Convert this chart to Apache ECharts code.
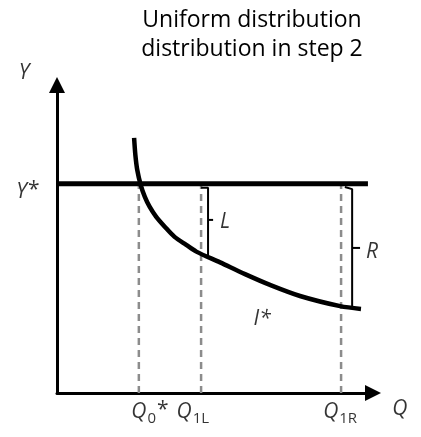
<!DOCTYPE html>
<html>
<head>
<meta charset="utf-8">
<script src="https://cdn.jsdelivr.net/npm/echarts@6/dist/echarts.min.js"></script>
<style>
  html, body { margin: 0; padding: 0; background: #fff; }
  #chart { width: 421px; height: 437px; }
</style>
</head>
<body>
<div id="chart"></div>
<script>
// curve I* (Q, Y) in 0..100 units
const curveQ = [24.4, 24.8, 25.4, 26.5, 27.8, 29.3, 31.4, 34.1, 37.2, 40.9, 44.1, 51.6, 59.5, 67.4, 76.9, 89.6, 96.2];
const curveY = [82.8, 77.3, 72.4, 67.5, 63.7, 60.5, 57.2, 54.0, 50.7, 48.1, 45.9, 42.4, 38.6, 35.1, 31.5, 28.2, 27.3];
const yStar = 67.9;
const yStarEnd = 98.4;
// dashed verticals
const qTicks = ['Q0', 'Q1L', 'Q1R'];
const qValues = [25.9, 45.6, 89.9];
// brackets L and R : [x, y] points
const bracketL = [[45.6, 66.6], [47.8, 66.6], [47.8, 44.8]];
const tickL = [[47.8, 56.2], [49.4, 56.2]];
const bracketR = [[91.1, 66.9], [93.4, 66.2], [93.4, 27.9]];
const tickR = [[93.4, 47.1], [95.9, 47.1]];
// text labels [x, y, text]
const labels = [
  [53.2, 55.5, '{i|L}'],
  [99.7, 45.8, '{i|R}'],
  [64.9, 24.0, '{i|I*}'],
  [-10.4, 103.8, '{i|Y}'],
  [-9.2, 65.3, '{i|Y}{n|*}'],
  [108.5, -5.2, '{i|Q}'],
  [29.4, -6.2, '{i|Q}{s|0}{n|*}'],
  [43.0, -6.2, '{i|Q}{s|1L}'],
  [89.6, -6.2, '{i|Q}{s|1R}']
];

const font = '"Open Sans", "Liberation Sans", sans-serif';
const chart = echarts.init(document.getElementById('chart'));

const black = (data, w) => ({
  type: 'line', data, symbol: 'none', silent: true, z: 3,
  lineStyle: { color: '#000', width: w }
});

const series = [
  {
    type: 'line', symbol: 'none', silent: true, z: 3,
    smooth: 0.3,
    data: curveQ.map((q, i) => [q, curveY[i]]),
    lineStyle: { color: '#000', width: 4.5, cap: 'butt' }
  },
  black([[0, yStar], [yStarEnd, yStar]], 5),
  black(bracketL, 2),
  black(tickL, 2),
  black(bracketR, 2),
  black(tickR, 2)
];

qValues.forEach((q, i) => {
  series.push({
    type: 'line', name: qTicks[i], symbol: 'none', silent: true, z: 2,
    data: [[q, 0], [q, yStar]],
    lineStyle: { color: '#8c8c8c', width: 2.5, type: [7, 5] }
  });
});

series.push({
  type: 'scatter', clip: false, silent: true, symbolSize: 1,
  itemStyle: { color: 'rgba(0,0,0,0)' },
  data: labels,
  label: {
    show: true, position: 'inside', color: '#000', textBorderWidth: 0,
    formatter: p => p.data[2],
    rich: {
      i: { fontFamily: font, fontSize: 21, fontStyle: 'italic', color: '#000' },
      n: { fontFamily: font, fontSize: 21, color: '#000', padding: [0, 0, 4, 1] },
      s: { fontFamily: font, fontSize: 15, color: '#000', padding: [14, 0, 0, 1] }
    }
  }
});

chart.setOption({
  animation: false,
  title: {
    text: 'Uniform distribution\ndistribution in step 2',
    left: 247, top: 1, textAlign: 'center',
    textStyle: { fontFamily: font, fontSize: 23, fontWeight: 'normal', color: '#000', lineHeight: 29 }
  },
  grid: { left: 57, top: 85, right: 48, bottom: 44 },
  xAxis: {
    type: 'value', min: 0, max: 100,
    splitLine: { show: false }, axisTick: { show: false }, axisLabel: { show: false },
    axisLine: { lineStyle: { color: '#000', width: 3 }, symbol: ['none', 'triangle'], symbolSize: [16, 16] }
  },
  yAxis: {
    type: 'value', min: 0, max: 100,
    splitLine: { show: false }, axisTick: { show: false }, axisLabel: { show: false },
    axisLine: { lineStyle: { color: '#000', width: 3 }, symbol: ['none', 'triangle'], symbolSize: [16, 16] }
  },
  series
});
</script>
</body>
</html>
